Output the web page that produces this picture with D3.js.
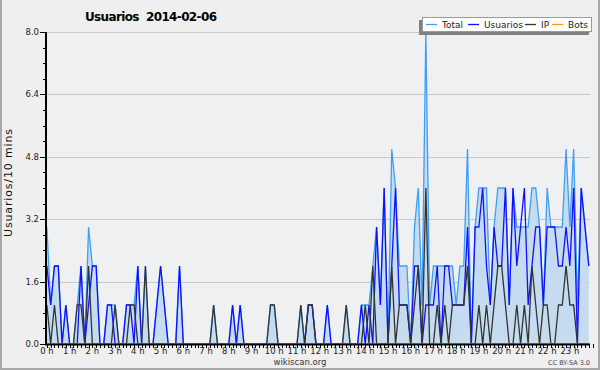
<!DOCTYPE html>
<html>
<head>
<meta charset="utf-8">
<script src="https://cdn.jsdelivr.net/npm/d3@7"></script>
<style>
  body { margin: 0; background: #efefef; }
  text { font-family: "DejaVu Sans", sans-serif; }
</style>
</head>
<body>
<div id="chart"></div>
<script>
// 144 samples, one every 10 minutes
const total = [3,1,2,2,0,1,0,0,1,2,0,3,2,2,0,0,1,1,1,0,0,1,1,1,2,0,2,0,0,1,2,1,0,0,0,2,0,0,0,0,0,0,0,0,1,0,0,0,0,1,0,1,0,0,0,0,0,0,0,1,1,0,0,0,0,0,0,1,0,1,1,0,0,0,1,0,0,0,0,1,0,0,0,1,1,1,2,3,1,4,0,5,4,2,2,2,0,3,4,1,8,1,2,2,2,2,2,2,1,2,2,5,0,3,4,4,4,1,3,4,4,4,1,4,3,3,3,3,4,4,3,1,4,3,3,3,3,5,3,5,1,4,3,2];
const usuarios = [2,1,2,2,0,1,0,0,0,2,0,1,2,2,0,0,1,1,0,0,0,1,1,0,2,0,0,0,0,1,2,1,0,0,0,2,0,0,0,0,0,0,0,0,0,0,0,0,0,1,0,1,0,0,0,0,0,0,0,0,0,0,0,0,0,0,0,0,0,1,1,0,0,0,1,0,0,0,0,0,0,0,0,1,0,1,0,3,1,4,0,2,4,1,1,1,0,2,2,0,1,1,1,2,0,2,2,1,1,1,1,3,0,3,3,4,2,1,3,2,2,4,1,4,2,3,4,1,2,3,3,1,3,3,3,2,2,3,2,4,0,4,3,2];
const ip = [1,0,1,0,0,0,0,0,1,1,0,2,0,0,0,0,0,0,1,0,0,0,1,1,0,0,2,0,0,0,0,0,0,0,0,0,0,0,0,0,0,0,0,0,1,0,0,0,0,0,0,0,0,0,0,0,0,0,0,1,1,0,0,0,0,0,0,1,0,1,1,0,0,0,0,0,0,0,0,1,0,0,0,0,1,0,2,0,0,0,0,2,0,1,1,1,0,1,2,0,4,0,0,1,0,1,0,1,1,1,1,2,0,0,1,0,1,0,1,2,2,1,0,0,1,0,1,0,2,1,0,1,1,0,0,1,1,2,1,1,0,0,0,0];
const bots = total.map(() => 0);

const hourLabels = d3.range(24).map((h) => `${h} h`);
const yTicks = [0, 1.6, 3.2, 4.8, 6.4, 8.0];
const legendNames = ["Total", "Usuarios", "IP", "Bots"];
const legendColors = ["#3ea0f5", "#1010ff", "#333333", "#ff9900"];

const width = 600,
  height = 370;
const plot = { left: 46, right: 590, top: 32, bottom: 344 };

const svg = d3
  .select("#chart")
  .append("svg")
  .attr("width", width)
  .attr("height", height);

svg.append("rect").attr("width", width).attr("height", height).attr("fill", "#efefef");

// frame
svg.append("path")
  .attr("d", "M1,0V369H599V0")
  .attr("fill", "none")
  .attr("stroke", "#a9a9a9")
  .attr("stroke-width", 2);

const x = d3.scaleLinear().domain([-0.5, 143.5]).range([45, 590.7]);
const y = d3.scaleLinear().domain([0, 8]).range([plot.bottom, plot.top]);

svg.append("rect")
  .attr("x", plot.left)
  .attr("y", plot.top)
  .attr("width", plot.right - plot.left)
  .attr("height", plot.bottom - plot.top)
  .attr("fill", "#eef0f2");

// grid
svg.append("g")
  .selectAll("line")
  .data(yTicks.slice(1))
  .join("line")
  .attr("x1", plot.left)
  .attr("x2", plot.right)
  .attr("y1", (d) => Math.round(y(d)) + 0.5)
  .attr("y2", (d) => Math.round(y(d)) + 0.5)
  .attr("stroke", "#c8c8c8")
  .attr("stroke-width", 1);

const area = d3.area().x((d, i) => x(i)).y0(y(0)).y1((d) => y(d));
const line = d3.line().x((d, i) => x(i)).y((d) => y(d));

svg.append("path").datum(total).attr("d", area).attr("fill", "#c5dcf0");

const series = [total, usuarios, ip, bots];
series.forEach((s, k) => {
  svg.append("path")
    .datum(s)
    .attr("d", line)
    .attr("fill", "none")
    .attr("stroke", legendColors[k])
    .attr("stroke-width", 1.3);
});

// y axis
const yAxis = svg.append("g").attr("transform", `translate(${plot.left},0)`);
yAxis.append("line")
  .attr("y1", plot.top).attr("y2", plot.bottom + 1)
  .attr("stroke", "#000").attr("stroke-width", 2);
yAxis.selectAll(".minor")
  .data(d3.range(0, 8.01, 0.4))
  .join("line")
  .attr("x1", -3).attr("x2", 0)
  .attr("y1", (d) => Math.round(y(d)) + 0.5)
  .attr("y2", (d) => Math.round(y(d)) + 0.5)
  .attr("stroke", "#000");
yAxis.selectAll(".major")
  .data(yTicks)
  .join("line")
  .attr("x1", -6).attr("x2", 0)
  .attr("y1", (d) => Math.round(y(d)) + 0.5)
  .attr("y2", (d) => Math.round(y(d)) + 0.5)
  .attr("stroke", "#000");
yAxis.selectAll("text")
  .data(yTicks)
  .join("text")
  .attr("x", -7)
  .attr("y", (d) => y(d) + 3)
  .attr("text-anchor", "end")
  .attr("font-size", 8.5)
  .attr("fill", "#222")
  .text((d) => d.toFixed(1));

// x axis
const xAxis = svg.append("g");
xAxis.append("line")
  .attr("x1", plot.left - 1).attr("x2", plot.right)
  .attr("y1", plot.bottom + 0.5).attr("y2", plot.bottom + 0.5)
  .attr("stroke", "#000").attr("stroke-width", 2);
xAxis.selectAll(".tick")
  .data(d3.range(0, 145))
  .join("line")
  .attr("x1", (d) => Math.round(x(d)) + 0.5)
  .attr("x2", (d) => Math.round(x(d)) + 0.5)
  .attr("y1", plot.bottom)
  .attr("y2", plot.bottom + 4)
  .attr("stroke", "#000");
xAxis.selectAll("text")
  .data(hourLabels)
  .join("text")
  .attr("x", (d, i) => x(i * 6))
  .attr("y", 354)
  .attr("text-anchor", "middle")
  .attr("font-size", 8.5)
  .attr("fill", "#222")
  .text((d) => d);

// titles
svg.append("text")
  .attr("x", 85)
  .attr("y", 21)
  .attr("font-size", 12)
  .attr("font-weight", "bold")
  .attr("textLength", 132)
  .style("white-space", "pre")
  .text("Usuarios  2014-02-06");

svg.append("text")
  .attr("transform", "translate(12,183) rotate(-90)")
  .attr("text-anchor", "middle")
  .attr("font-size", 11)
  .attr("fill", "#111")
  .attr("textLength", 108)
  .text("Usuarios/10 mins");

svg.append("text")
  .attr("x", 300).attr("y", 365)
  .attr("text-anchor", "middle")
  .attr("font-size", 8.5)
  .attr("fill", "#333")
  .text("wikiscan.org");

svg.append("text")
  .attr("x", 590).attr("y", 365)
  .attr("text-anchor", "end")
  .attr("font-size", 6.5)
  .attr("fill", "#444")
  .text("CC BY-SA 3.0");

// legend
const lg = svg.append("g");
lg.append("rect").attr("x", 419).attr("y", 20).attr("width", 170).attr("height", 15).attr("fill", "#808080");
lg.append("rect")
  .attr("x", 422.5).attr("y", 17.5).attr("width", 169).attr("height", 14)
  .attr("fill", "#fff").attr("stroke", "#999");
const legendX = [426, 468, 525, 552];
legendNames.forEach((name, k) => {
  lg.append("line")
    .attr("x1", legendX[k]).attr("x2", legendX[k] + 11)
    .attr("y1", 24.5).attr("y2", 24.5)
    .attr("stroke", legendColors[k]).attr("stroke-width", 1.3);
  lg.append("text")
    .attr("x", legendX[k] + 16).attr("y", 28)
    .attr("font-size", 9)
    .attr("fill", "#222")
    .text(name);
});
</script>
</body>
</html>
